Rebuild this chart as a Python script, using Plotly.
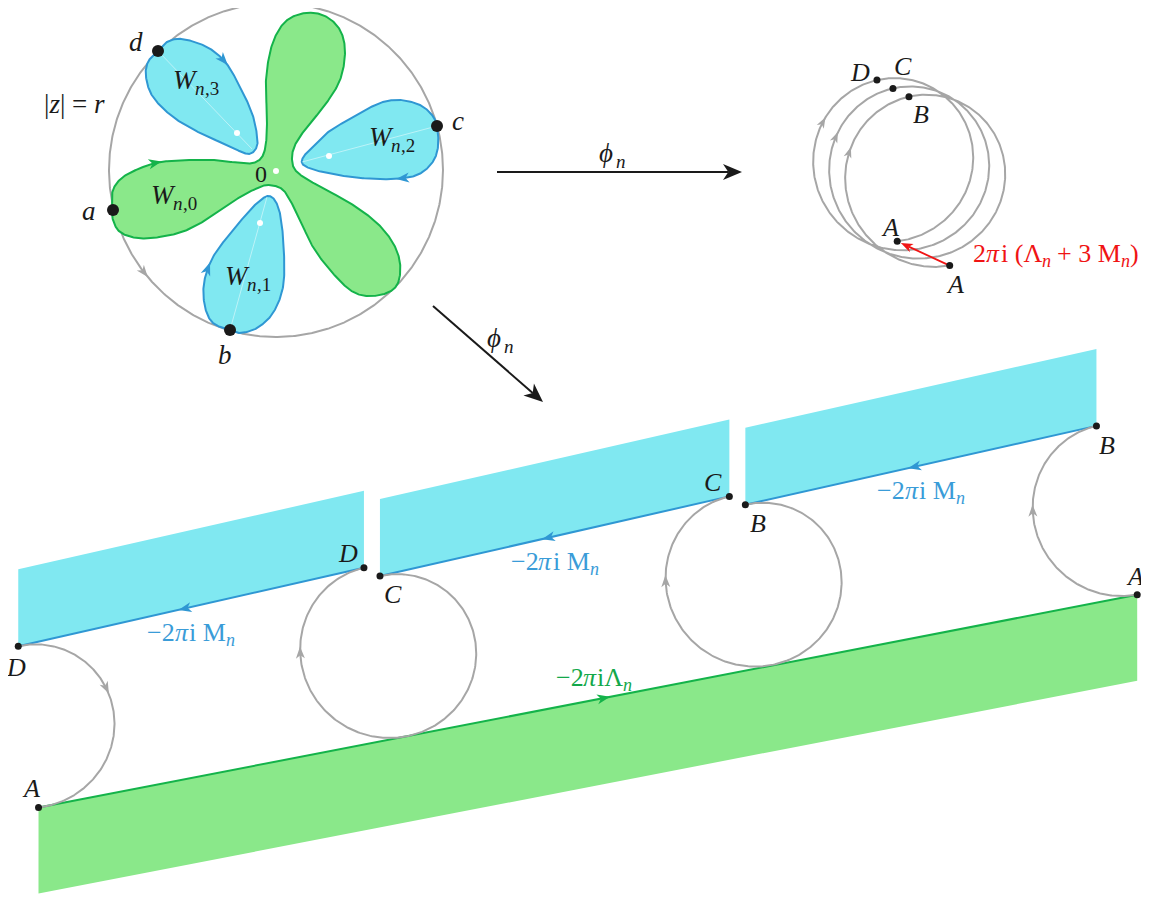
import numpy as np
import plotly.graph_objects as go

W, H = 1149, 901
PAGE_MARGIN = 8          # default body margin of the html page
FONT = "Liberation Serif"
GRAY = "#a6a6a6"
CYAN = "#80e8f1"
BLUE = "#2f97d3"
BLUE_TXT = "#3a9cd8"
GREEN_FILL = "#8ae88a"
GREEN = "#14b34a"
GREEN_TXT = "#13a84a"
RED = "#f01414"
BLACK = "#1a1a1a"

# ---------------- data: disk picture ----------------
DISK_CENTER = [276, 170]
DISK_R = 167
BND_NAMES = ["a", "b", "c", "d"]
BND_X = [113, 230, 437, 158]
BND_Y = [210, 330, 126, 51]

FLOWER_X = [143, 160, 187, 213, 240, 253, 262, 266, 267, 266, 272, 285, 305, 325, 340, 345, 340, 325, 307, 295,
            292, 297, 317, 350, 377, 393, 400, 398, 387, 367, 350, 330, 313, 300, 290, 282, 270, 260, 240, 217,
            187, 160, 137, 120, 113, 112, 113, 123]
FLOWER_Y = [167, 162, 160, 160, 163, 163, 157, 143, 117, 80, 45, 22, 13, 16, 30, 52, 80, 105, 127, 145,
            160, 172, 185, 203, 223, 243, 263, 283, 293, 296, 290, 270, 247, 220, 200, 189, 185, 187, 197, 213,
            230, 237, 238, 232, 220, 207, 190, 177]

W3_X = [158, 167, 182, 207, 226, 240, 252, 257, 257, 252, 244, 227, 200, 173, 153, 146, 148]
W3_Y = [51, 42, 39, 47, 63, 87, 113, 135, 146, 153, 153, 145, 133, 117, 97, 77, 62]
W2_X = [437, 438, 432, 417, 393, 360, 327, 309, 302, 304, 312, 327, 353, 380, 400, 420, 432]
W2_Y = [126, 147, 163, 175, 179, 178, 173, 168, 163, 156, 148, 133, 117, 103, 100, 105, 115]
W1_X = [230, 240, 257, 273, 283, 284, 281, 276, 269, 262, 253, 233, 213, 204, 205, 213]
W1_Y = [330, 333, 328, 313, 287, 253, 219, 202, 196, 199, 207, 230, 257, 283, 307, 323]

PETAL_TIP_X = [252, 302, 267]      # inner ends of W3, W2, W1
PETAL_TIP_Y = [149, 162, 197]
PETAL_DOT_X = [237, 329, 260, 276]
PETAL_DOT_Y = [133, 156, 223, 171]

# ---------------- data: image curve phi_n(|z|=r) ----------------
SPIRAL_C1 = [925.7, 179.0]
SPIRAL_R = 84.0
SPIRAL_SHIFT = [-16.0, -8.3]          # per turn
PIECE_PHI = [79.0, 258.5, 618.5, 978.5, 1162.0]   # A, B, C, D, A
TOP_ARROW_PHI = [200, 565, 930]
# translation of each piece (A->B, B->C, C->D, D->A) into the lower picture
OFFSET_X = [187.5, -163.6, -513.0, -858.7]
OFFSET_Y = [329.2, 408.0, 487.7, 566.2]
BOTTOM_ARROW_PHI = [180, 540, 900, 1053]
CYAN_HEIGHT = 77
GREEN_HEIGHT = 86

# advance widths (em) of Liberation Serif (Times metrics)
CHAR_W = {"2": .5, "3": .5, "0": .5, "1": .5, "i": .278, " ": .25, "(": .333, ")": .333, "+": .564,
          "M": .889, "Λ": .722, "−": .564, ",": .25, "n": .5, "W": .833, "π": .55, "ϕ": .62}


def closed_spline(xs, ys, n=24):
    P = np.array([xs, ys], dtype=float).T
    N = len(P)
    out = []
    t = np.linspace(0, 1, n, endpoint=False)[:, None]
    for i in range(N):
        p0, p1, p2, p3 = P[i - 1], P[i], P[(i + 1) % N], P[(i + 2) % N]
        pts = 0.5 * (2 * p1 + (-p0 + p2) * t + (2 * p0 - 5 * p1 + 4 * p2 - p3) * t ** 2
                     + (-p0 + 3 * p1 - 3 * p2 + p3) * t ** 3)
        out.append(pts)
    out = np.vstack(out)
    out = np.vstack([out, out[:1]])
    return out[:, 0], out[:, 1]


def spiral(phi0, phi1, n=300):
    ph = np.radians(np.linspace(phi0, phi1, n))
    turns = (ph - np.radians(PIECE_PHI[1])) / (2 * np.pi)
    x = SPIRAL_C1[0] + turns * SPIRAL_SHIFT[0] + SPIRAL_R * np.cos(ph)
    y = SPIRAL_C1[1] + turns * SPIRAL_SHIFT[1] + SPIRAL_R * np.sin(ph)
    return x, y


def spiral_pt(phi):
    x, y = spiral(phi, phi, 1)
    return float(x[0]), float(y[0])


fig = go.Figure()


def line(x, y, color, width, fill=None, fillcolor=None, opacity=1.0):
    fig.add_trace(go.Scatter(x=list(x), y=list(y), mode="lines",
                             line=dict(color=color, width=width), fill=fill,
                             fillcolor=fillcolor, opacity=opacity, hoverinfo="skip"))


def poly(x, y, fillcolor):
    fig.add_trace(go.Scatter(x=list(x), y=list(y), mode="lines", line=dict(width=0),
                             fill="toself", fillcolor=fillcolor, hoverinfo="skip"))


def head(x, y, dx, dy, color, L, Wd, center=True):
    """stealth arrow head pointing along (dx, dy); centred on (x, y) or tipped at it"""
    n = np.hypot(dx, dy)
    ux, uy = dx / n, dy / n
    nx, ny = -uy, ux
    if center:
        x, y = x + 0.45 * L * ux, y + 0.45 * L * uy
    px = [x, x - L * ux + 0.5 * Wd * nx, x - 0.72 * L * ux, x - L * ux - 0.5 * Wd * nx, x]
    py = [y, y - L * uy + 0.5 * Wd * ny, y - 0.72 * L * uy, y - L * uy - 0.5 * Wd * ny, y]
    poly(px, py, color)


def head_on(X, Y, tx, ty, color, L, Wd, reverse=False):
    i = int(np.argmin((X - tx) ** 2 + (Y - ty) ** 2))
    a, b = (i + 2, i - 2) if reverse else (i - 2, i + 2)
    a = max(0, min(len(X) - 1, a))
    b = max(0, min(len(X) - 1, b))
    head(X[i], Y[i], X[b] - X[a], Y[b] - Y[a], color, L, Wd)


def spiral_head(ph, ox, oy, color, L, Wd):
    hx, hy = spiral_pt(ph)
    ax, ay = spiral_pt(ph - 1)
    bx, by = spiral_pt(ph + 1)
    head(hx + ox, hy + oy, bx - ax, by - ay, color, L, Wd)


def map_arrow(x0, y0, x1, y1, color, width, L, Wd):
    dx, dy = x1 - x0, y1 - y0
    n = np.hypot(dx, dy)
    ex, ey = x1 - 0.72 * L * dx / n, y1 - 0.72 * L * dy / n
    line([x0, ex], [y0, ey], color, width)
    head(x1, y1, dx, dy, color, L, Wd, center=False)


def dots(x, y, size, color=BLACK):
    fig.add_trace(go.Scatter(x=list(x), y=list(y), mode="markers",
                             marker=dict(size=size, color=color, line=dict(width=0)),
                             hoverinfo="skip"))


def texts(x, y, t, color=BLACK, size=26):
    for xi, yi, ti in zip(x, y, t):
        fig.add_annotation(x=xi, y=yi, text=ti, showarrow=False, xref="x", yref="y",
                           xanchor="center", yanchor="middle",
                           font=dict(family=FONT, size=size, color=color))


def rich(xc, yc, pieces, color=BLACK, size=26):
    """pieces: (text, italic, subscript) laid out left to right, centred on xc"""
    ssize = round(0.7 * size)
    widths = [sum(CHAR_W.get(ch, 0.5) for ch in raw) * (ssize if sub else size) for raw, it, sub in pieces]
    x = xc - sum(widths) / 2
    for (raw, it, sub), w in zip(pieces, widths):
        fs = ssize if sub else size
        lead = len(raw) - len(raw.lstrip(" "))
        shown = raw.strip(" ")
        txt = "<i>" + shown + "</i>" if it else shown
        fig.add_annotation(x=x + lead * CHAR_W[" "] * fs, y=yc + (0.3 * size if sub else 0), text=txt,
                           showarrow=False, xref="x", yref="y", xanchor="left", yanchor="middle",
                           borderpad=0, borderwidth=0,
                           font=dict(family=FONT, size=fs, color=color))
        x += w


# ================= disk =================
tt = np.radians(np.linspace(360, 0, 721))
cx = DISK_CENTER[0] + DISK_R * np.cos(tt)
cy = DISK_CENTER[1] + DISK_R * np.sin(tt)
line(cx, cy, GRAY, 2.0)
head_on(cx, cy, 143, 273, GRAY, 12, 9)

fx, fy = closed_spline(FLOWER_X, FLOWER_Y)
line(fx, fy, GREEN, 2.0, fill="toself", fillcolor=GREEN_FILL)
head_on(fx, fy, 156, 162, GREEN, 13, 10)

petals = [(W3_X, W3_Y, (224, 61), False), (W2_X, W2_Y, (402, 177), False), (W1_X, W1_Y, (207, 268), True)]
for k, (px, py, at, rev) in enumerate(petals):
    sx, sy = closed_spline(px, py)
    line(sx, sy, BLUE, 2.0, fill="toself", fillcolor=CYAN)
    line([PETAL_TIP_X[k], px[0]], [PETAL_TIP_Y[k], py[0]], "white", 0.8, opacity=0.6)
    head_on(sx, sy, at[0], at[1], BLUE, 13, 10, reverse=rev)

dots(PETAL_DOT_X, PETAL_DOT_Y, 6, "white")
dots(BND_X, BND_Y, 12)
texts([89, 225, 458, 136], [211, 355, 121, 42], ["<i>a</i>", "<i>b</i>", "<i>c</i>", "<i>d</i>"], size=27)
texts([261], [174], ["0"], size=24)
texts([74], [104], ["|<i>z</i>| = <i>r</i>"], size=27)
W_LABELS = ["3", "2", "0", "1"]
W_LX = [196, 392, 174, 248]
W_LY = [80, 137, 195, 276]
for k, xl, yl in zip(W_LABELS, W_LX, W_LY):
    rich(xl, yl, [("W", True, False), ("n", True, True), ("," + k, False, True)], size=27)

# ================= map arrows =================
map_arrow(497, 172, 742, 172, BLACK, 2.0, 19, 16)
map_arrow(433, 306, 543, 402, BLACK, 2.0, 19, 16)
for xl, yl in ((612, 153), (500, 338)):
    rich(xl, yl, [("ϕ", True, False), ("n", True, True)], size=27)

# ================= top-right spiral =================
sxs, sys_ = spiral(PIECE_PHI[0], PIECE_PHI[-1], 1200)
line(sxs, sys_, GRAY, 2.0)
for ph in TOP_ARROW_PHI:
    spiral_head(ph, 0, 0, GRAY, 11, 8)
pts = [spiral_pt(p) for p in PIECE_PHI]
(ax_, ay_), (bx_, by_) = pts[0], pts[-1]
dd = np.hypot(bx_ - ax_, by_ - ay_)
map_arrow(ax_, ay_, bx_ - 4 * (bx_ - ax_) / dd, by_ - 4 * (by_ - ay_) / dd, RED, 1.8, 12, 9)
dots([p[0] for p in pts], [p[1] for p in pts], 7)
texts([955, 921, 903, 860, 890], [284, 114, 66, 72, 227],
      ["<i>A</i>", "<i>B</i>", "<i>C</i>", "<i>D</i>", "<i>A</i>"])
rich(1056, 253, [("2", False, False), ("π", True, False), ("i (Λ", False, False), ("n", True, True),
                 (" + 3 M", False, False), ("n", True, True), (")", False, False)], color=RED, size=26)


# ================= lower picture =================
def P(idx, off):
    x, y = pts[idx]
    return x + OFFSET_X[off], y + OFFSET_Y[off]


strip_edges = []
for idx in (1, 2, 3):
    lx, ly = P(idx, idx)
    rx, ry = P(idx, idx - 1)
    poly([lx, rx, rx, lx], [ly, ry, ry - CYAN_HEIGHT, ly - CYAN_HEIGHT], CYAN)
    strip_edges.append((lx, ly, rx, ry))

glx, gly = P(4, 3)
grx, gry = P(0, 0)
poly([glx, grx, grx, glx], [gly, gry, gry + GREEN_HEIGHT, gly + GREEN_HEIGHT], GREEN_FILL)

for (lx, ly, rx, ry) in strip_edges:
    line([lx, rx], [ly, ry], BLUE, 2.0)
    t = 0.48
    head(lx + t * (rx - lx), ly + t * (ry - ly), lx - rx, ly - ry, BLUE, 13, 10)
    rich(lx + 0.5 * (rx - lx), ly + 0.5 * (ry - ly) + 25,
         [("−2", False, False), ("π", True, False), ("i M", False, False), ("n", True, True)],
         color=BLUE_TXT, size=26)

line([glx, grx], [gly, gry], GREEN, 2.0)
t = 0.515
head(glx + t * (grx - glx), gly + t * (gry - gly), grx - glx, gry - gly, GREEN, 13, 10)
rich(594, 677, [("−2", False, False), ("π", True, False), ("iΛ", False, False), ("n", True, True)],
     color=GREEN_TXT, size=26)

for i in range(4):
    x, y = spiral(PIECE_PHI[i], PIECE_PHI[i + 1], 300)
    line(x + OFFSET_X[i], y + OFFSET_Y[i], GRAY, 2.0)
    spiral_head(BOTTOM_ARROW_PHI[i], OFFSET_X[i], OFFSET_Y[i], GRAY, 12, 9)

ends = []
for i in range(4):
    ends.append(P(i, i))
    ends.append(P(i + 1, i))
dots([e[0] for e in ends], [e[1] for e in ends], 7)

lab_dx = [-2, 11, 13, -16, 13, -16, -2, -8]
lab_dy = [-18, 20, 19, -14, 18, -14, 21, -19]
lab_t = ["<i>A</i>", "<i>B</i>", "<i>B</i>", "<i>C</i>", "<i>C</i>", "<i>D</i>", "<i>D</i>", "<i>A</i>"]
texts([e[0] + d for e, d in zip(ends, lab_dx)], [e[1] + d for e, d in zip(ends, lab_dy)], lab_t)

fig.update_layout(
    width=W, height=H, margin=dict(l=0, r=0, t=0, b=0),
    paper_bgcolor="white", plot_bgcolor="white", showlegend=False,
    xaxis=dict(range=[PAGE_MARGIN, W + PAGE_MARGIN], visible=False, fixedrange=True),
    yaxis=dict(range=[H + PAGE_MARGIN, PAGE_MARGIN], visible=False, fixedrange=True),
)
fig.write_html("out.html", config={"displayModeBar": False})
